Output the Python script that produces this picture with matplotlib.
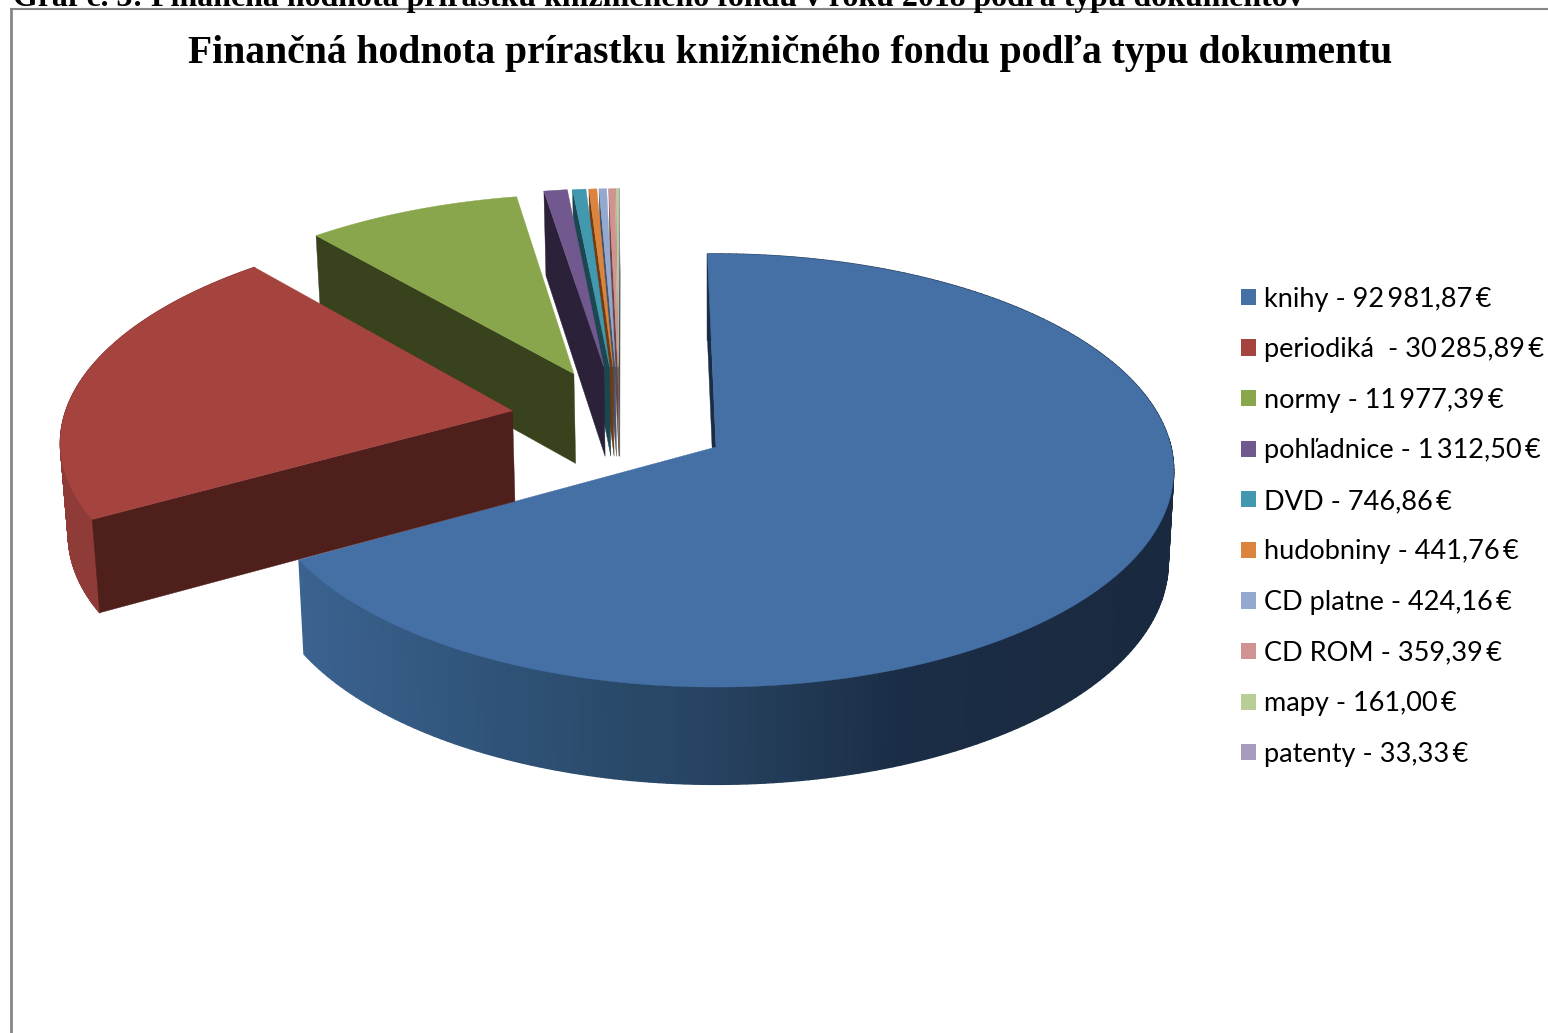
"""
Exploded 3D pie of the book fund additions, drawn by hand with a perspective projection
"""

import numpy as np
import matplotlib
matplotlib.use('Agg')
import matplotlib.pyplot as plt
from matplotlib.collections import PolyCollection
from matplotlib.patches import Patch, Polygon

# data
names = ['knihy', 'periodiká ', 'normy', 'pohľadnice', 'DVD', 'hudobniny',
         'CD platne', 'CD ROM', 'mapy', 'patenty']
values = [92981.87, 30285.89, 11977.39, 1312.50, 746.86, 441.76, 424.16, 359.39, 161.00, 33.33]
title = 'Finančná hodnota prírastku knižničného fondu podľa typu dokumentu'
heading = 'Graf č. 3: Finančná hodnota prírastku knižničného fondu v roku 2018 podľa typu dokumentov'

# colours: top face, radial wall, outer rim
top_colors = ['#4570A6', '#A5433F', '#8AA64C', '#71588F', '#4198AF', '#DB843D',
              '#93A9CF', '#D19392', '#B9CD96', '#A99BBD']
wall_colors = ['#1A2D45', '#4F1F1C', '#38421C', '#2B2138', '#1C4650', '#6E3B12',
               '#46546C', '#6A4544', '#5C664A', '#544C5E']
red_rim = '#8F3B37'

# explosion of each slice (direction in degrees, distance in radii)
explode_dir = [0, 290.7, 317.6, 326.6, 328, 328.8, 329.4, 330, 330.2, 330.3]
explode_dist = [0, 0.487, 0.481, 0.467, 0.46, 0.456, 0.453, 0.45, 0.45, 0.45]

# projection, in pixels of the figure
CX, CY = 716, 447
A, B = 455, 214
K = 0.1085
DEPTH = 91.5
K_DEPTH = 0.06
SHRINK = 0.988
START = -1.2


def project(u, v, bottom=False):
    w = 1 + K * np.asarray(v)
    x = CX + A * np.asarray(u) / w
    y = CY - B * np.asarray(v) / w
    if bottom:
        x = CX + (x - CX) * SHRINK
        y = y + DEPTH / (1 + K_DEPTH * np.asarray(v))
    return x, y


def blue_rim(x):
    # shading of the big slice runs from left to right
    stops = [300, 500, 725, 900, 1180]
    reds = [0x3B, 0x2F, 0x26, 0x1B, 0x19]
    greens = [0x63, 0x53, 0x42, 0x2D, 0x29]
    blues = [0x90, 0x78, 0x5F, 0x46, 0x3F]
    return (np.interp(x, stops, reds) / 255, np.interp(x, stops, greens) / 255,
            np.interp(x, stops, blues) / 255)


fig = plt.figure(figsize=(15.48, 10.33), dpi=100)
ax = fig.add_axes([0, 0, 1, 1])
ax.set_xlim(0, 1548)
ax.set_ylim(1033, 0)
ax.axis('off')

# slice angles
values_arr = np.array(values)
spans = values_arr / values_arr.sum() * 360
starts = START + np.concatenate(([0], np.cumsum(spans)[:-1]))

# blue first, then the small ones from right to left, red last
order = [0, 9, 8, 7, 6, 5, 4, 3, 2, 1]
for i in order:
    t = np.radians(np.linspace(starts[i], starts[i] + spans[i], 240))
    d = np.radians(explode_dir[i])
    u0 = explode_dist[i] * np.sin(d)
    v0 = explode_dist[i] * np.cos(d)
    u = u0 + np.sin(t)
    v = v0 + np.cos(t)

    xt, yt = project(u, v)
    xb, yb = project(u, v, bottom=True)

    # outer rim, only the two big front slices show it
    if i < 2:
        quads = [[(xt[j], yt[j]), (xt[j + 1], yt[j + 1]), (xb[j + 1], yb[j + 1]), (xb[j], yb[j])]
                 for j in range(len(t) - 1)]
        if i == 0:
            cols = [blue_rim(xt[j]) for j in range(len(t) - 1)]
        else:
            cols = red_rim
        ax.add_collection(PolyCollection(quads, facecolors=cols, edgecolors=cols, linewidths=1.0))

    # wall on the starting edge
    ax_t, ay_t = project(u0, v0)
    ax_b, ay_b = project(u0, v0, bottom=True)
    wall = [(ax_t, ay_t), (xt[0], yt[0]), (xb[0], yb[0]), (ax_b, ay_b)]
    ax.add_patch(Polygon(wall, closed=True, facecolor=wall_colors[i], edgecolor=wall_colors[i], lw=0.3))

    # top face
    top = [(ax_t, ay_t)] + list(zip(xt, yt))
    ax.add_patch(Polygon(top, closed=True, facecolor=top_colors[i], edgecolor=top_colors[i], lw=0.3))

# frame of the chart
ax.plot([11, 11], [1033, 9], color='#868686', lw=2)
ax.plot([11, 1548], [9, 9], color='#868686', lw=1.5)

ax.text(13, 6, heading, family='Liberation Serif', weight='bold', fontsize=22.95, va='baseline', ha='left', color='black')
ax.text(790, 63, title, family='Liberation Serif', weight='bold', fontsize=28.5, va='baseline', ha='center', color='black')

# legend
labels = [f"{n} - {v:,.2f}\u2009€".replace(',', '\u2009').replace('.', ',') for n, v in zip(names, values)]
handles = [Patch(facecolor=c, edgecolor='none') for c in top_colors]
ax.legend(handles, labels, loc='upper left', bbox_to_anchor=(1241, 286.5), bbox_transform=ax.transData,
          frameon=False, prop={'family': 'Lato', 'size': 19.5}, handlelength=0.55, handleheight=0.55,
          handletextpad=0.29, labelspacing=0.945, borderpad=0, borderaxespad=0)

fig.savefig('out.png', dpi=100)
